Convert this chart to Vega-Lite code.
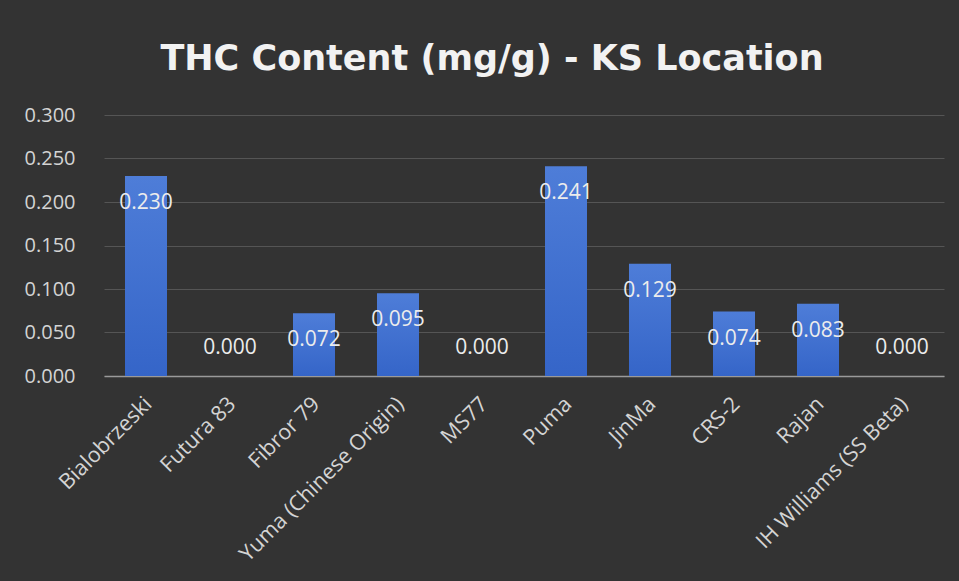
{
  "$schema": "https://vega.github.io/schema/vega-lite/v6.json",
  "autosize": {"type": "none"},
  "width": 840,
  "height": 261,
  "padding": {"left": 104, "top": 115, "right": 15, "bottom": 205},
  "background": "#333333",
  "title": {
    "text": "THC Content (mg/g) - KS Location",
    "font": "DejaVu Sans",
    "fontSize": 35,
    "fontWeight": "bold",
    "color": "#f2f2f2",
    "anchor": "middle",
    "dx": -32,
    "offset": 28
  },
  "data": {
    "values": [
      {"variety": "Bialobrzeski", "thc": 0.230},
      {"variety": "Futura 83", "thc": 0.000},
      {"variety": "Fibror 79", "thc": 0.072},
      {"variety": "Yuma (Chinese Origin)", "thc": 0.095},
      {"variety": "MS77", "thc": 0.000},
      {"variety": "Puma", "thc": 0.241},
      {"variety": "JinMa", "thc": 0.129},
      {"variety": "CRS-2", "thc": 0.074},
      {"variety": "Rajan", "thc": 0.083},
      {"variety": "IH Williams (SS Beta)", "thc": 0.000}
    ]
  },
  "encoding": {
    "x": {
      "field": "variety",
      "type": "nominal",
      "sort": null,
      "scale": {"paddingInner": 0.5, "paddingOuter": 0.25},
      "axis": {
        "title": null,
        "labelAngle": -45,
        "labelFont": "Open Sans",
        "labelFontSize": 21.5,
        "labelColor": "#d4d4d4",
        "labelLimit": 400,
        "ticks": false,
        "labelPadding": 17,
        "labelOffset": -5,
        "domainColor": "#9a9a9a",
        "domainWidth": 1.5
      }
    },
    "y": {
      "field": "thc",
      "type": "quantitative",
      "scale": {"domain": [0, 0.3]},
      "axis": {
        "title": null,
        "values": [0, 0.05, 0.1, 0.15, 0.2, 0.25, 0.3],
        "format": ".3f",
        "labelFont": "Open Sans",
        "labelFontSize": 20,
        "labelColor": "#d4d4d4",
        "ticks": false,
        "domain": false,
        "labelPadding": 29,
        "gridColor": "#555555",
        "gridWidth": 1
      }
    }
  },
  "layer": [
    {
      "mark": {
        "type": "bar",
        "color": {
          "gradient": "linear",
          "x1": 0, "y1": 0, "x2": 0, "y2": 1,
          "stops": [
            {"offset": 0, "color": "#4e7dd8"},
            {"offset": 1, "color": "#3565c8"}
          ]
        }
      }
    },
    {
      "transform": [{"filter": "datum.thc > 0"}],
      "mark": {"type": "text", "dy": 27, "font": "Open Sans", "fontSize": 21, "color": "#ececec", "baseline": "middle"},
      "encoding": {"text": {"field": "thc", "type": "quantitative", "format": ".3f"}}
    },
    {
      "transform": [{"filter": "datum.thc <= 0"}],
      "mark": {"type": "text", "dy": -28, "font": "Open Sans", "fontSize": 21, "color": "#ececec", "baseline": "middle"},
      "encoding": {"text": {"field": "thc", "type": "quantitative", "format": ".3f"}}
    }
  ],
  "config": {"view": {"stroke": null}}
}
